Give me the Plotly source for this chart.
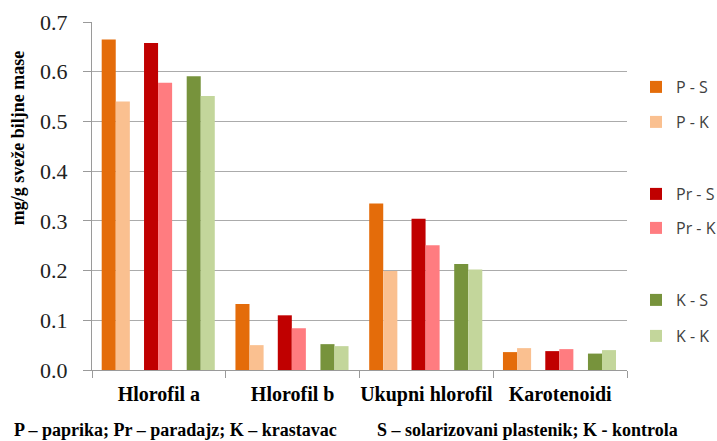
import plotly.graph_objects as go

categories = ["Hlorofil a", "Hlorofil b", "Ukupni hlorofil", "Karotenoidi"]
series_names = ["P - S", "P - K", "Pr - S", "Pr - K", "K - S", "K - K"]
p_s = [0.665, 0.133, 0.335, 0.036]
p_k = [0.540, 0.050, 0.199, 0.044]
pr_s = [0.658, 0.110, 0.304, 0.038]
pr_k = [0.578, 0.084, 0.251, 0.042]
k_s = [0.591, 0.052, 0.213, 0.033]
k_k = [0.551, 0.048, 0.202, 0.040]
y_ticks = [0.0, 0.1, 0.2, 0.3, 0.4, 0.5, 0.6, 0.7]

values = [p_s, p_k, pr_s, pr_k, k_s, k_k]
colors = ["#E46C0A", "#FAC090", "#C00000", "#FF7C80", "#77933C", "#C3D69B"]
offsets = [-0.4275, -0.322, -0.111, -0.006, 0.208, 0.313]
bar_w = 0.105
legend_names = ["legend", "legend2", "legend3", "legend4", "legend5", "legend6"]
legend_py = [87, 122, 194, 228, 300, 336]

W, H = 717, 441
fig = go.Figure()
for name, vals, col, off, lg in zip(series_names, values, colors, offsets, legend_names):
    fig.add_trace(go.Bar(
        x=categories, y=vals, name=name, marker_color=col,
        marker_line_width=0, offset=off, width=bar_w, legend=lg,
    ))

legend_common = dict(
    xref="container", yref="container", x=636 / W, xanchor="left", yanchor="middle",
    font=dict(family="Open Sans", size=16, color="#404040"),
    bgcolor="rgba(0,0,0,0)", borderwidth=0,
)
layout_legends = {}
for lg, py in zip(legend_names, legend_py):
    layout_legends[lg] = dict(legend_common, y=1 - py / H)

fig.update_layout(
    width=W, height=H,
    margin=dict(l=92, r=90, t=22, b=71, autoexpand=False),
    paper_bgcolor="white", plot_bgcolor="white",
    barmode="group",
    showlegend=True,
    **layout_legends,
    xaxis=dict(
        type="category", tickson="boundaries", ticks="outside", ticklen=7,
        tickcolor="#9a9a9a", showline=True, linecolor="#9a9a9a", linewidth=1,
        showgrid=False, tickangle=0, automargin=False,
        tickfont=dict(family="Liberation Serif", size=20, color="black", weight="bold"),
        ticklabelstandoff=6,
    ),
    yaxis=dict(
        range=[0, 0.7], tickvals=y_ticks, tickformat=".1f",
        ticks="outside", ticklen=8, tickcolor="#9a9a9a",
        showline=True, linecolor="#9a9a9a", linewidth=1,
        showgrid=True, gridcolor="#ababab", gridwidth=1,
        zeroline=False, automargin=False,
        tickfont=dict(family="Liberation Serif", size=22, color="#222222"),
        ticklabelstandoff=11,
    ),
    annotations=[
        dict(text="<b>mg/g sveže biljne mase</b>", textangle=-90,
             xref="paper", yref="paper", x=(18 - 92) / 535, y=(370 - 138.5) / 347.5,
             xanchor="center", yanchor="middle", showarrow=False,
             font=dict(family="Liberation Serif", size=18, color="black")),
        dict(text="<b>P – paprika; Pr – paradajz; K – krastavac</b>",
             xref="paper", yref="paper", x=(12 - 92) / 535, y=(370 - 430) / 347.5,
             xanchor="left", yanchor="middle", showarrow=False,
             font=dict(family="Liberation Serif", size=18, color="black")),
        dict(text="<b>S – solarizovani plastenik; K - kontrola</b>",
             xref="paper", yref="paper", x=(375 - 92) / 535, y=(370 - 430) / 347.5,
             xanchor="left", yanchor="middle", showarrow=False,
             font=dict(family="Liberation Serif", size=18, color="black")),
    ],
)

fig.write_html("out.html")
